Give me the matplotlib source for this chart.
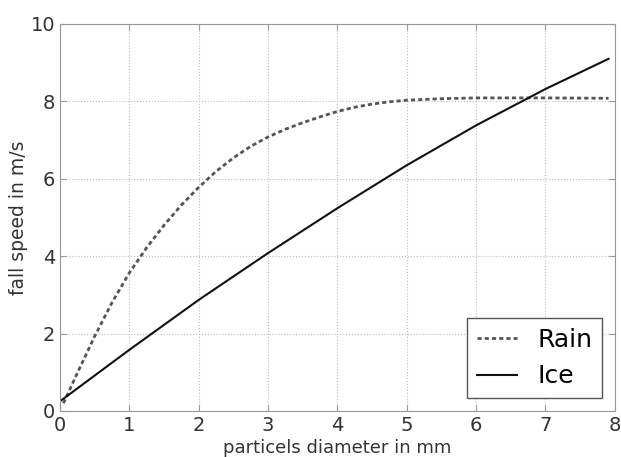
import numpy as np
import matplotlib.pyplot as plt

# particle diameter (mm) and fall speed (m/s)
d_rain = [0.05, 0.25, 0.5, 0.75, 1.0, 1.25, 1.5, 1.75, 2.0, 2.25, 2.5, 2.75,
          3.0, 3.25, 3.5, 3.75, 4.0, 4.25, 4.5, 4.75, 5.0, 5.5, 6.0, 6.5,
          7.0, 7.5, 7.91]
v_rain = [0.2, 0.98, 1.93, 2.8, 3.57, 4.22, 4.8, 5.32, 5.78, 6.19, 6.54, 6.84,
          7.08, 7.28, 7.45, 7.6, 7.74, 7.85, 7.93, 7.99, 8.03, 8.07, 8.09, 8.09,
          8.09, 8.085, 8.08]
d_ice = [0.0, 1.0, 2.0, 3.0, 4.0, 5.0, 6.0, 7.0, 7.91]
v_ice = [0.25, 1.58, 2.87, 4.08, 5.24, 6.35, 7.38, 8.32, 9.1]

fig = plt.figure(figsize=(6.21, 4.57), dpi=100)
ax = fig.add_axes([0.0966, 0.1007, 0.8934, 0.8468])

ax.plot(d_rain, v_rain, color='#555555', lw=2, dashes=(1.5, 1.1), label='Rain')
ax.plot(d_ice, v_ice, '-', color='#111111', lw=1.5, label='Ice')

ax.set_xlim(0, 8)
ax.set_ylim(0, 10)
ax.set_xticks(range(0, 9))
ax.set_yticks(range(0, 11, 2))
ax.grid(True, ls=':', color='#bbbbbb', lw=0.8)
ax.tick_params(direction='in', top=True, right=True, labelsize=14,
               colors='#999999', labelcolor='#333333', length=4)
for s in ax.spines.values():
    s.set_color('#999999')

ax.set_xlabel('particels diameter in mm', fontsize=13, color='#333333', labelpad=3)
ax.set_ylabel('fall speed in m/s', fontsize=13.5, color='#333333', labelpad=1.5)

leg = ax.legend(loc='lower right', fontsize=18, fancybox=False, framealpha=1,
                edgecolor='#555555', handlelength=1.6, borderaxespad=0.5)
leg.get_frame().set_linewidth(1.0)

fig.savefig('out.png', dpi=100)
